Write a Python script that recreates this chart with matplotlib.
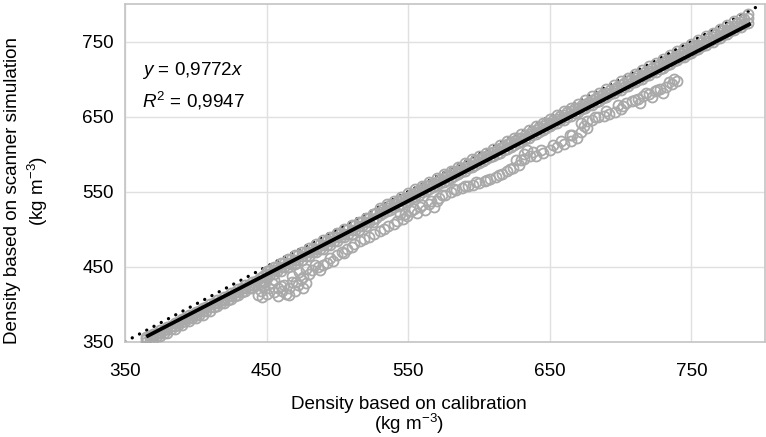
import matplotlib
matplotlib.use("Agg")
import matplotlib.pyplot as plt

plt.rcParams['font.family'] = ['Liberation Sans', 'DejaVu Sans']
plt.rcParams['mathtext.fontset'] = 'custom'
plt.rcParams['mathtext.rm'] = 'Liberation Sans'
plt.rcParams['mathtext.it'] = 'Liberation Sans:italic'
plt.rcParams['mathtext.bf'] = 'Liberation Sans:bold'

# ---- data ----
main_x = [365, 370, 375, 380, 385, 390, 395, 400, 405, 410, 415, 420, 425, 430, 435, 440, 445,
          450, 455, 460, 465, 470, 475, 480, 485, 490, 495, 500, 505, 510, 515, 520, 525,
          530, 535, 540, 545, 550, 555, 560, 565, 570, 575, 580, 585, 590, 595, 600, 605,
          610, 615, 620, 625, 630, 635, 640, 645, 650, 655, 660, 665, 670, 675, 680, 685,
          690, 695, 700, 705, 710, 715, 720, 725, 730, 735, 740, 745, 750, 755, 760, 765,
          770, 775, 780, 785, 790]
main_y_low = [349, 353, 357, 362, 367, 372, 377, 381, 386, 391, 397, 401, 407, 412, 417, 422, 427,
              435, 440, 444, 449, 454, 459, 464, 469, 474, 479, 484, 489, 494, 499, 504, 509,
              519, 524, 529, 534, 539, 544, 549, 554, 559, 563, 568, 573, 578, 583, 588, 593,
              597, 602, 607, 612, 617, 622, 627, 632, 637, 642, 646, 651, 656, 661, 666, 671,
              676, 681, 686, 691, 696, 700, 705, 710, 715, 720, 725, 730, 735, 740, 745, 750,
              755, 760, 765, 770, 775]
main_y_mid = [353, 357, 362, 367, 371, 376, 381, 386, 391, 396, 401, 406, 411, 416, 421, 426, 431,
              440, 445, 450, 455, 459, 464, 469, 474, 479, 484, 489, 494, 499, 504, 509, 514,
              523, 528, 534, 539, 543, 548, 554, 559, 563, 568, 573, 578, 583, 588, 593, 598,
              603, 608, 613, 618, 622, 627, 632, 637, 642, 647, 652, 657, 662, 667, 672, 677,
              682, 687, 692, 697, 702, 706, 711, 716, 721, 726, 731, 736, 741, 746, 751, 756,
              761, 766, 771, 776, 781]
main_y_high = [356, 360, 365, 370, 375, 380, 385, 390, 395, 400, 405, 410, 415, 420, 425, 430, 435,
               444, 449, 455, 460, 465, 470, 475, 480, 485, 490, 495, 500, 505, 510, 515, 520,
               528, 533, 538, 543, 548, 553, 558, 563, 568, 573, 578, 583, 588, 593, 597, 602,
               607, 612, 617, 622, 627, 632, 637, 642, 647, 652, 657, 662, 667, 672, 677, 682,
               687, 692, 697, 702, 707, 712, 717, 722, 727, 732, 737, 742, 747, 752, 757, 762,
               767, 772, 777, 782, 787]

main_x2 = [367.5, 372.5, 377.5, 382.5, 387.5, 392.5, 397.5, 402.5, 407.5, 412.5, 417.5, 422.5,
           427.5, 432.5, 437.5, 442.5, 447.5, 452.5, 457.5, 462.5, 467.5, 472.5, 477.5, 482.5,
           487.5, 492.5, 497.5, 502.5, 507.5, 512.5, 517.5, 522.5, 527.5, 532.5, 537.5, 542.5,
           547.5, 552.5, 557.5, 562.5, 567.5, 572.5, 577.5, 582.5, 587.5, 592.5, 597.5, 602.5,
           607.5, 612.5, 617.5, 622.5, 627.5, 632.5, 637.5, 642.5, 647.5, 652.5, 657.5, 662.5,
           667.5, 672.5, 677.5, 682.5, 687.5, 692.5, 697.5, 702.5, 707.5, 712.5, 717.5, 722.5,
           727.5, 732.5, 737.5, 742.5, 747.5, 752.5, 757.5, 762.5, 767.5, 772.5, 777.5, 782.5,
           787.5]
main_y2_a = [353, 358, 362, 367, 372, 377, 381, 386, 391, 396, 401, 406, 411, 416, 421, 426, 430,
             440, 444, 449, 454, 459, 464, 469, 474, 479, 484, 489, 494, 499, 504, 509, 515,
             521, 526, 531, 536, 541, 546, 551, 556, 561, 566, 571, 576, 581, 586, 591, 596,
             600, 605, 610, 615, 620, 625, 630, 635, 640, 645, 650, 655, 660, 665, 670, 675,
             680, 685, 690, 695, 699, 704, 709, 714, 719, 724, 729, 734, 739, 744, 749, 754,
             759, 764, 769, 774]
main_y2_b = [357, 362, 366, 371, 376, 381, 386, 391, 396, 401, 406, 411, 416, 421, 426, 431, 437,
             445, 450, 455, 460, 465, 470, 475, 480, 485, 490, 495, 500, 505, 510, 515, 522,
             527, 532, 537, 542, 547, 552, 557, 562, 567, 572, 577, 582, 587, 592, 596, 601,
             606, 611, 616, 621, 626, 631, 636, 641, 646, 651, 656, 661, 665, 670, 675, 680,
             685, 690, 695, 700, 705, 710, 715, 720, 725, 730, 735, 740, 745, 750, 755, 760,
             765, 770, 775, 780]

branch_x = [444, 446, 448, 447, 450, 452, 454, 455, 458, 458, 461, 462, 464, 466, 468, 470, 472, 474,
            476, 478, 468, 473, 478, 482, 486, 490, 493, 495, 500, 503, 507, 512, 519, 526, 533,
            540, 546, 544, 549, 552, 556, 558, 562, 565, 568, 570, 572, 576, 580, 584, 588, 592,
            596, 600, 604, 608, 612, 616, 620, 624, 628, 630, 632, 634, 636, 640, 645, 650, 655,
            660, 665, 669, 664, 672, 676, 672, 676, 680, 684, 688, 692, 696, 700, 698, 704, 708,
            712, 716, 720, 724, 728, 732, 736, 740, 714, 722, 730]
branch_y = [412, 418, 424, 409, 414, 421, 428, 416, 411, 422, 418, 426, 414, 421, 430, 418, 425, 433,
            421, 428, 438, 443, 447, 445, 449, 452, 455, 461, 466, 470, 474, 480, 487, 494, 500,
            507, 514, 520, 517, 524, 521, 529, 526, 533, 530, 537, 542, 545, 549, 552, 555, 557,
            559, 561, 564, 567, 570, 574, 578, 582, 586, 592, 600, 606, 597, 598, 602, 606, 610,
            614, 618, 622, 625, 630, 635, 641, 644, 646, 649, 651, 654, 656, 660, 666, 668, 671,
            674, 677, 680, 684, 687, 690, 694, 698, 668, 676, 682]
branch2_x = [449, 455, 460, 466, 471, 476, 480, 484, 488, 497, 505, 510, 516, 522, 530, 536, 542,
             548, 554, 560, 566, 574, 582, 590, 598, 606, 614, 622, 626, 632, 638, 644, 652, 658,
             666, 674, 682, 690, 702, 710, 718, 726, 734, 738]
branch2_y = [430, 432, 424, 412, 430, 436, 440, 452, 446, 458, 468, 476, 484, 490, 497, 504, 511,
             520, 527, 532, 538, 546, 554, 558, 563, 566, 572, 580, 592, 594, 603, 606, 612, 618,
             626, 638, 650, 658, 664, 672, 681, 686, 696, 700]

fit_slope = 0.9772
fit_x = [365, 792]
one_to_one = [350, 800]

x_ticks = [350, 450, 550, 650, 750]
y_ticks = [350, 450, 550, 650, 750]

# ---- figure ----
fig = plt.figure(figsize=(7.66, 4.37), dpi=100)
ax = fig.add_axes([0.1632, 0.2181, 0.8355, 0.7727])

ax.set_xlim(350, 802)
ax.set_ylim(350, 800)
ax.set_xticks(x_ticks)
ax.set_yticks(y_ticks)
ax.grid(True, color='#e0e0e0', linewidth=1.0, zorder=0)
ax.set_axisbelow(True)
for s in ax.spines.values():
    s.set_color('#c4c4c4')
    s.set_linewidth(1.2)
ax.tick_params(length=0, labelsize=13.6, colors='black')
ax.tick_params(axis='x', pad=15)
ax.tick_params(axis='y', pad=8)

# 1:1 dotted line
ax.plot(one_to_one, one_to_one, color='black', linewidth=2.4,
        linestyle=(0, (0.01, 2.45)), dash_capstyle='round', zorder=2)

mk = dict(linestyle='none', marker='o', markersize=7.2, markerfacecolor='none',
          markeredgecolor='#a9a9a9', markeredgewidth=1.3, zorder=3)
for yy in (main_y_low, main_y_mid, main_y_high):
    ax.plot(main_x, yy, **mk)
for yy in (main_y2_a, main_y2_b):
    ax.plot(main_x2, yy, **mk)
ax.plot(branch_x, branch_y, **mk)
ax.plot(branch2_x, branch2_y, **mk)

ax.plot(fit_x, [fit_slope * v for v in fit_x], color='black', linewidth=2.7,
        solid_capstyle='butt', zorder=4)

ax.text(362, 711, r'$y$ = 0,9772$x$', fontsize=13.6, va='center', ha='left')
ax.text(362, 671, r'$R^2$ = 0,9947', fontsize=13.6, va='center', ha='left')

fig.text(0.534, 0.075, 'Density based on calibration', fontsize=13.6, ha='center', va='center')
fig.text(0.534, 0.030, r'(kg m$^{-3}$)', fontsize=13.6, ha='center', va='center')
fig.text(0.016, 0.563, 'Density based on scanner simulation', fontsize=13.6,
         ha='center', va='center', rotation=90)
fig.text(0.049, 0.563, r'(kg m$^{-3}$)', fontsize=13.6, ha='center', va='center', rotation=90)

fig.savefig('out.png', dpi=100)
